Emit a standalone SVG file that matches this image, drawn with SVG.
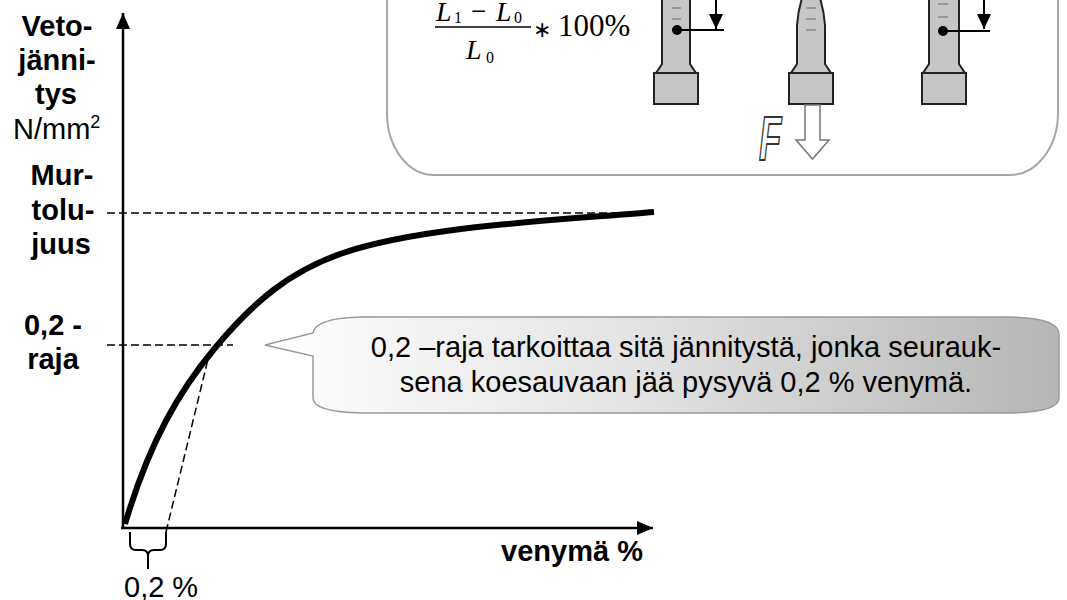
<svg xmlns="http://www.w3.org/2000/svg" width="1067" height="600" viewBox="0 0 1067 600">
<defs>
<style>
.lbl{font-family:"Liberation Sans",Arial,sans-serif;font-size:29px;font-weight:bold;fill:#000;text-anchor:middle}
.reg{font-family:"Liberation Sans",Arial,sans-serif;font-size:29px;fill:#000}
.math{font-family:"Liberation Serif","Times New Roman",serif;fill:#000}
.it{font-style:italic;font-size:28px}
.sub{font-size:16px}
.dash{stroke:#000;stroke-width:1.5;stroke-dasharray:8 4;fill:none}
.axis{stroke:#000;stroke-width:2.5;fill:none}
.piece{fill:#c6c6c6;stroke:#222;stroke-width:2}
.mark{stroke:#8a8a8a;stroke-width:1.5}
.thin{stroke:#000;stroke-width:2;fill:none}
</style>
<marker id="ah" markerUnits="userSpaceOnUse" markerWidth="16" markerHeight="14" refX="16" refY="7" orient="auto">
<path d="M0,0 L16,7 L0,14 Z" fill="#000"/>
</marker>
<marker id="ahs" markerUnits="userSpaceOnUse" markerWidth="15" markerHeight="14" refX="15" refY="7" orient="auto">
<path d="M0,0 L15,7 L0,14 Z" fill="#000"/>
</marker>
<linearGradient id="cg" x1="0" y1="0" x2="1" y2="0">
<stop offset="0" stop-color="#ffffff"/>
<stop offset="0.45" stop-color="#e4e4e4"/>
<stop offset="1" stop-color="#b6b6b6"/>
</linearGradient>
</defs>
<rect width="1067" height="600" fill="#fff"/>

<g id="panel">
<path d="M387 -20 V113 A47 62 0 0 0 434 175 H1010 A48 62 0 0 0 1058 113 V-20" fill="none" stroke="#a6a6a6" stroke-width="2"/>
</g>

<g id="formula">
<text class="math it" x="436" y="21">L</text>
<text class="math sub" x="454" y="23">1</text>
<text class="math" x="471" y="20" font-size="27">−</text>
<text class="math it" x="496" y="21">L</text>
<text class="math sub" x="514" y="23">0</text>
<line x1="435" y1="27" x2="531" y2="27" stroke="#000" stroke-width="1.4"/>
<text class="math it" x="466" y="59">L</text>
<text class="math sub" x="486" y="63">0</text>
<text class="math" x="533" y="37" font-size="22">∗</text>
<text class="math" x="558" y="36" font-size="31">100%</text>
</g>

<g id="specimen1">
<path class="piece" d="M662 -5 V64 L656 73 H696 L690 64 V-5 Z"/>
<rect class="piece" x="654" y="73" width="44" height="31"/>
<line class="mark" x1="672" y1="8" x2="681" y2="8"/>
<line class="mark" x1="672" y1="19" x2="681" y2="19"/>
<circle cx="677" cy="30" r="5" fill="#000"/>
<line class="thin" x1="677" y1="30" x2="724" y2="30"/>
<line class="thin" x1="716" y1="-5" x2="716" y2="29" marker-end="url(#ahs)"/>
</g>

<g id="specimen2">
<path class="piece" d="M803 -5 Q798 10 797 25 V64 L791 73 H831 L825 64 V25 Q824 10 819 -5 Z"/>
<rect class="piece" x="789" y="73" width="44" height="31"/>
<line class="mark" x1="806" y1="8" x2="816" y2="8"/>
<line class="mark" x1="806" y1="19" x2="816" y2="19"/>
<line class="mark" x1="806" y1="30" x2="816" y2="30"/>
<path d="M805 105 V140 H796 L812.5 159 L829 140 H820 V105 Z" fill="#fff" stroke="#777" stroke-width="1.5"/>
<text transform="translate(759,160) scale(0.58,1)" font-family="Liberation Sans,Arial,sans-serif" font-size="63" font-weight="bold" font-style="italic" fill="#fff" stroke="#333" stroke-width="2">F</text>
</g>

<g id="specimen3">
<path class="piece" d="M929 -5 V64 L923 73 H965 L959 64 V-5 Z"/>
<rect class="piece" x="922" y="73" width="44" height="31"/>
<line class="mark" x1="938" y1="4" x2="948" y2="4"/>
<line class="mark" x1="938" y1="17" x2="948" y2="17"/>
<circle cx="943" cy="31" r="5" fill="#000"/>
<line class="thin" x1="943" y1="31" x2="990" y2="31"/>
<line class="thin" x1="984" y1="-5" x2="984" y2="29" marker-end="url(#ahs)"/>
</g>

<g id="ylabel">
<text class="lbl" x="57" y="36">Veto-</text>
<text class="lbl" x="57" y="70">jänni-</text>
<text class="lbl" x="56" y="104">tys</text>
<text class="reg" x="13" y="139">N/mm<tspan font-size="18" dy="-11">2</tspan></text>
</g>
<g id="murtolujuus">
<text class="lbl" x="62" y="185">Mur-</text>
<text class="lbl" x="63" y="220">tolu-</text>
<text class="lbl" x="61" y="254">juus</text>
</g>
<g id="raja">
<text class="lbl" x="53" y="335">0,2 -</text>
<text class="lbl" x="53" y="369">raja</text>
</g>

<g id="connectors">
<line class="dash" x1="107" y1="213" x2="653" y2="213"/>
<line class="dash" x1="107" y1="345" x2="233" y2="345"/>
<line class="dash" x1="166" y1="532" x2="209" y2="355"/>
<line class="axis" x1="123" y1="528" x2="123" y2="13" marker-end="url(#ah)"/>
<line class="axis" x1="121" y1="528" x2="653" y2="528" marker-end="url(#ah)"/>
<path d="M125 524 C150 440 180 390 215 348 C255 300 290 272 340 254 C420 226 560 220 654 212" fill="none" stroke="#000" stroke-width="6"/>
<path class="thin" d="M130 532 V544 Q130 550 136 550 H142 Q148 550 148 556 V569 M148 556 Q148 550 154 550 H160 Q166 550 166 544 V532"/>
</g>

<g id="xlabel">
<text class="lbl" x="572" y="561">venymä %</text>
<text class="reg" x="124" y="597">0,2 %</text>
</g>

<g id="callout">
<path d="M265 345 L313 333 Q315 318 362 317 H1010 Q1059 318 1059 334 V398 Q1059 412 1010 413 H362 Q313 412 313 398 V356 Z" fill="url(#cg)" stroke="#999" stroke-width="1.5"/>
<text class="reg" x="686" y="357" text-anchor="middle">0,2 –raja tarkoittaa sitä jännitystä, jonka seurauk-</text>
<text class="reg" x="686" y="392" text-anchor="middle">sena koesauvaan jää pysyvä 0,2 % venymä.</text>
</g>
</svg>
